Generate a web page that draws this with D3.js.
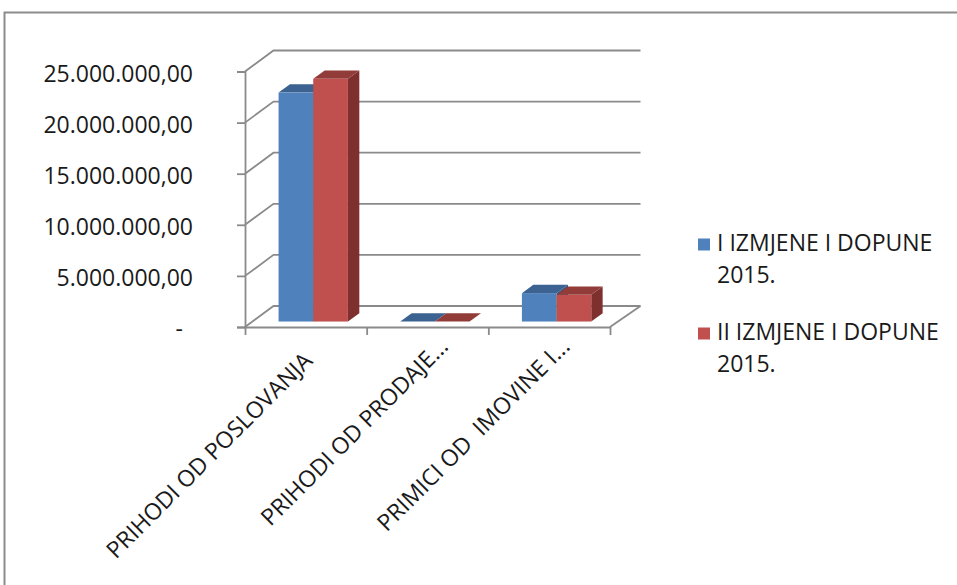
<!DOCTYPE html>
<html>
<head>
<meta charset="utf-8">
<script src="https://cdn.jsdelivr.net/npm/d3@7"></script>
<style>
    body { margin: 0; background: #fff; }
    text { font-family: "Open Sans", sans-serif; fill: #1a1a1a; }
</style>
</head>
<body>
<svg id="chart" width="957" height="585"></svg>
<script>
// chart data
const categories = ["PRIHODI OD POSLOVANJA", "PRIHODI OD PRODAJE...", "PRIMICI OD  IMOVINE I..."];
const seriesNames = ["I IZMJENE I DOPUNE 2015.", "II IZMJENE I DOPUNE 2015."];
const izmjene1 = [22400000, 0, 2780000];
const izmjene2 = [23750000, 0, 2610000];
const yTicks = [0, 5000000, 10000000, 15000000, 20000000, 25000000];
const yTickLabels = ["-", "5.000.000,00", "10.000.000,00", "15.000.000,00", "20.000.000,00", "25.000.000,00"];

// colours per series: front, top, side
const seriesColors = [
    { front: "#4f81bd", top: "#3b6291", side: "#34577f" },
    { front: "#c0504d", top: "#923c3a", side: "#7d302e" }
];
const gridColor = "#8a8a8a";

// layout of the 3d box
const frontX0 = 245;
const floorWidth = 365;
const depthX = 28.5; // how far the back wall is moved right
const depthY = -21;  // and up
const barDepthStart = 0.26; // bars sit between these fractions of the floor depth
const barDepthEnd = 0.66;

const svg = d3.select("#chart");

const y = d3.scaleLinear().domain([0, 25000000]).range([327, 71.5]);

const xCat = d3.scaleBand()
    .domain(categories)
    .range([0, floorWidth])
    .paddingInner(0.43)
    .paddingOuter(0.215);

const xSeries = d3.scaleBand()
    .domain(d3.range(seriesNames.length))
    .range([0, xCat.bandwidth()]);

drawFrame();
drawWalls();
drawBars();
drawAxes();
drawLegend();

function drawFrame() {
    svg.append("path")
        .attr("d", "M4.5,585 L4.5,12.5 L957,12.5") //frame of the pasted picture
        .attr("fill", "none")
        .attr("stroke", "#8c8c8c")
        .attr("stroke-width", 2);
}

function drawWalls() {
    const g = svg.append("g").attr("class", "walls");
    const backRight = frontX0 + floorWidth + depthX + 2;

    // side wall diagonals + back wall gridlines
    yTicks.forEach(t => {
        const yf = y(t);
        g.append("path")
            .attr("d", `M${frontX0},${yf} L${frontX0 + depthX},${yf + depthY} L${backRight},${yf + depthY}`)
            .attr("fill", "none")
            .attr("stroke", gridColor)
            .attr("stroke-width", 1.8);
    });

    // right edge of the floor
    g.append("path")
        .attr("d", `M${frontX0 + floorWidth},${y(0)} L${backRight},${y(0) + depthY}`)
        .attr("fill", "none")
        .attr("stroke", gridColor)
        .attr("stroke-width", 1.8);
}

function drawBars() {
    const seriesData = [izmjene1, izmjene2];
    const ox = depthX * barDepthStart;
    const oy = depthY * barDepthStart;
    const dx = depthX * (barDepthEnd - barDepthStart);
    const dy = depthY * (barDepthEnd - barDepthStart);
    const bw = xSeries.bandwidth();

    categories.forEach((cat, ci) => {
        seriesData.forEach((values, si) => {
            const col = seriesColors[si];
            const sx = frontX0 + ox + xCat(cat) + xSeries(si);
            const yt = y(values[ci]) + oy;
            const yb = y(0) + oy;
            const g = svg.append("g").attr("class", "bar");

            g.append("path") //side face
                .attr("d", `M${sx + bw},${yt} L${sx + bw + dx},${yt + dy} L${sx + bw + dx},${yb + dy} L${sx + bw},${yb}Z`)
                .attr("fill", col.side);

            g.append("path") //top face
                .attr("d", `M${sx},${yt} L${sx + bw},${yt} L${sx + bw + dx},${yt + dy} L${sx + dx},${yt + dy}Z`)
                .attr("fill", col.top);

            if (yb - yt > 0) { //only add front face when the bar has a height
                g.append("rect")
                    .attr("x", sx)
                    .attr("y", yt)
                    .attr("width", bw)
                    .attr("height", yb - yt)
                    .attr("fill", col.front);
            }
        });
    });
}

function drawAxes() {
    const yAxis = d3.axisLeft(y)
        .tickValues(yTicks)
        .tickFormat((d, i) => yTickLabels[i])
        .tickSize(8)
        .tickPadding(44);

    const gy = svg.append("g")
        .attr("transform", `translate(${frontX0},0)`)
        .call(yAxis);
    gy.select(".domain").attr("stroke", gridColor).attr("stroke-width", 1.8);
    gy.selectAll(".tick line").attr("stroke", gridColor).attr("stroke-width", 1.8);
    gy.selectAll(".tick text")
        .attr("font-size", 23)
        .attr("font-family", "Open Sans")
        .attr("fill", "#1a1a1a")
        .attr("dy", "0.42em")
        .attr("dx", d => d === 0 ? -10 : 0); //the dash keeps its trailing space in the number format

    // category boundaries along the front of the floor
    const xEdge = d3.scaleLinear().domain([0, categories.length]).range([frontX0, frontX0 + floorWidth]);
    const xAxis = d3.axisBottom(xEdge)
        .tickValues(d3.range(categories.length + 1))
        .tickFormat("")
        .tickSize(8)
        .tickSizeOuter(0);

    const gx = svg.append("g")
        .attr("transform", `translate(0,${y(0)})`)
        .call(xAxis);
    gx.select(".domain").attr("stroke", gridColor).attr("stroke-width", 1.8);
    gx.selectAll(".tick line").attr("stroke", gridColor).attr("stroke-width", 1.8);

    // rotated category labels
    const labelShift = [-20, 0, 0];
    categories.forEach((cat, i) => {
        const cx = frontX0 + xCat(cat) + xCat.bandwidth() / 2 + 22;
        const cy = 348;
        svg.append("text")
            .attr("transform", `translate(${cx},${cy}) rotate(-45)`)
            .attr("x", labelShift[i])
            .attr("text-anchor", "end")
            .attr("font-size", 23)
            .style("white-space", "pre")
            .text(cat);
    });
}

function drawLegend() {
    const g = svg.append("g").attr("class", "legend");
    const lx = 698;
    const rowY = [251, 340]; // baselines of the first line of each entry

    seriesNames.forEach((name, i) => {
        const words = name.split(" ");
        const line1 = words.slice(0, -1).join(" ");
        const line2 = words[words.length - 1];

        g.append("rect")
            .attr("x", lx)
            .attr("y", rowY[i] - 12.5)
            .attr("width", 12)
            .attr("height", 12)
            .attr("fill", seriesColors[i].front);

        const t = g.append("text")
            .attr("x", lx + 19)
            .attr("y", rowY[i])
            .attr("font-size", 23);
        t.append("tspan").text(line1);
        t.append("tspan").attr("x", lx + 19).attr("dy", 32).text(line2);
    });
}
</script>
</body>
</html>
